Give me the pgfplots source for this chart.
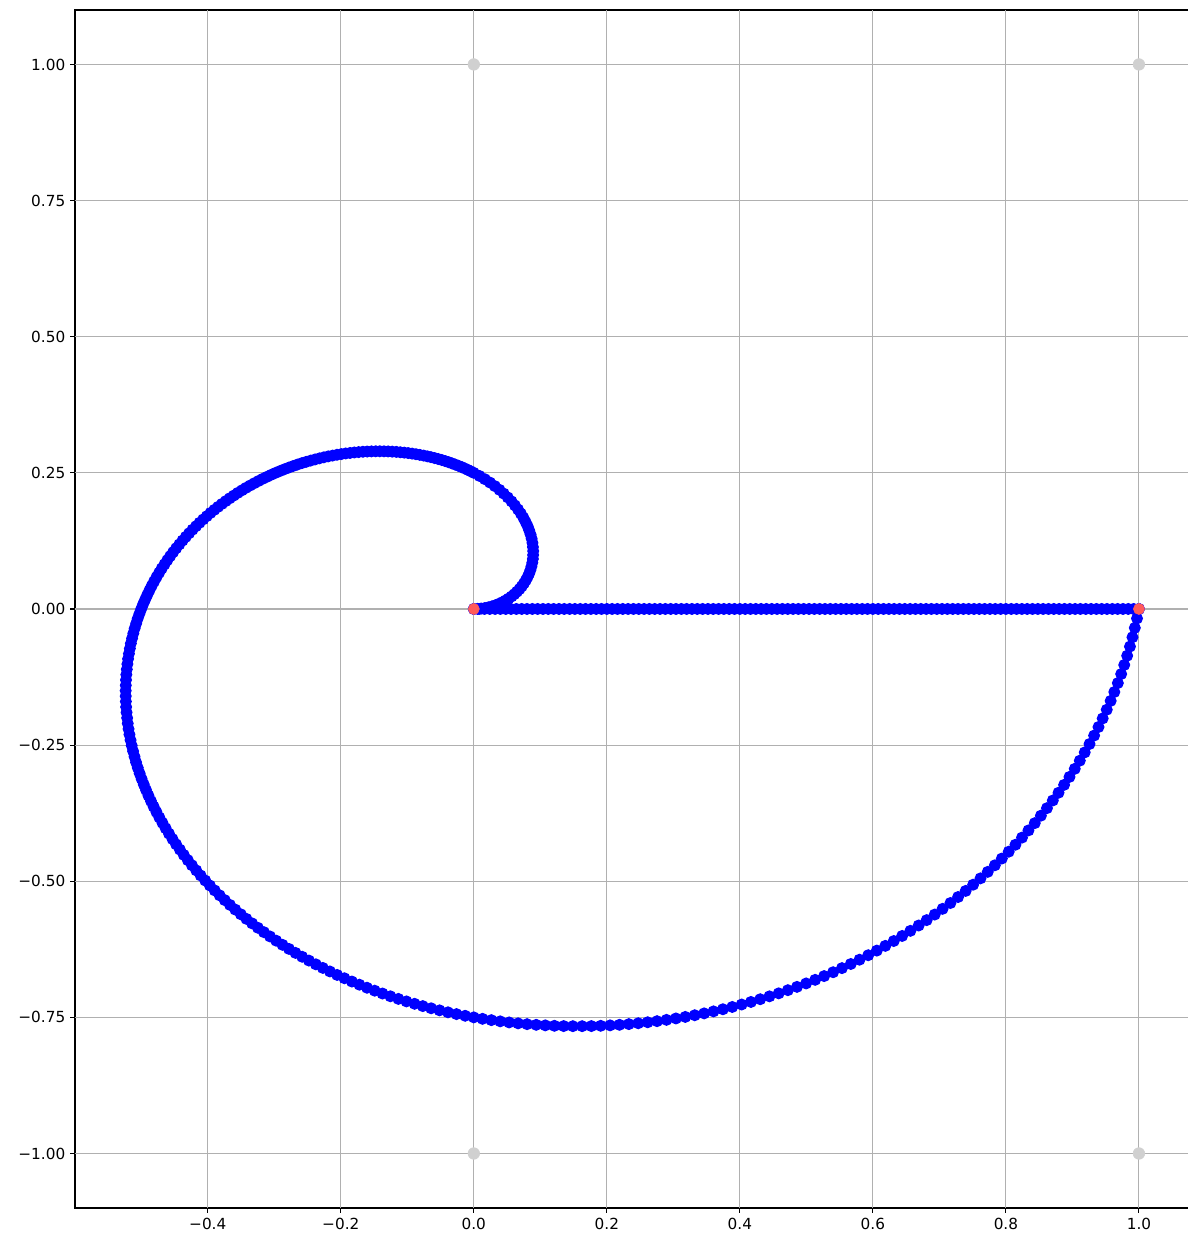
\documentclass[border=0pt]{standalone}
\usepackage{fontspec}
\setmainfont{DejaVu Sans}
\usepackage{pgfplots}
\usepackage{pgfplotstable}
\pgfplotsset{compat=1.18}
\definecolor{gridgray}{HTML}{B0B0B0}
\definecolor{cornergray}{HTML}{D0D0D0}
\definecolor{ptred}{HTML}{FF5A5A}

\pgfplotstableread{
x y
0 0
0.008 0
0.016 0
0.024 0
0.032 0
0.040 0
0.048 0
0.056 0
0.064 0
0.072 0
0.080 0
0.088 0
0.096 0
0.104 0
0.112 0
0.120 0
0.128 0
0.136 0
0.144 0
0.152 0
0.160 0
0.168 0
0.176 0
0.184 0
0.192 0
0.200 0
0.208 0
0.216 0
0.224 0
0.232 0
0.240 0
0.248 0
0.256 0
0.264 0
0.272 0
0.280 0
0.288 0
0.296 0
0.304 0
0.312 0
0.320 0
0.328 0
0.336 0
0.344 0
0.352 0
0.360 0
0.368 0
0.376 0
0.384 0
0.392 0
0.400 0
0.408 0
0.416 0
0.424 0
0.432 0
0.440 0
0.448 0
0.456 0
0.464 0
0.472 0
0.480 0
0.488 0
0.496 0
0.504 0
0.512 0
0.520 0
0.528 0
0.536 0
0.544 0
0.552 0
0.560 0
0.568 0
0.576 0
0.584 0
0.592 0
0.600 0
0.608 0
0.616 0
0.624 0
0.632 0
0.640 0
0.648 0
0.656 0
0.664 0
0.672 0
0.680 0
0.688 0
0.696 0
0.704 0
0.712 0
0.720 0
0.728 0
0.736 0
0.744 0
0.752 0
0.760 0
0.768 0
0.776 0
0.784 0
0.792 0
0.800 0
0.808 0
0.816 0
0.824 0
0.832 0
0.840 0
0.848 0
0.856 0
0.864 0
0.872 0
0.880 0
0.888 0
0.896 0
0.904 0
0.912 0
0.920 0
0.928 0
0.936 0
0.944 0
0.952 0
0.960 0
0.968 0
0.976 0
0.984 0
0.992 0
1.000 0
}\linedata

\pgfplotstableread{
x y
1 0
0.9971 -0.0174
0.9938 -0.0347
0.9903 -0.0519
0.9865 -0.0690
0.9823 -0.0859
0.9779 -0.1028
0.9733 -0.1195
0.9683 -0.1361
0.9630 -0.1525
0.9575 -0.1688
0.9516 -0.1850
0.9455 -0.2010
0.9392 -0.2168
0.9326 -0.2325
0.9257 -0.2480
0.9185 -0.2634
0.9111 -0.2786
0.9035 -0.2936
0.8956 -0.3084
0.8875 -0.3230
0.8791 -0.3375
0.8705 -0.3517
0.8617 -0.3658
0.8526 -0.3796
0.8434 -0.3933
0.8339 -0.4067
0.8242 -0.4199
0.8143 -0.4330
0.8042 -0.4458
0.7939 -0.4583
0.7834 -0.4707
0.7727 -0.4828
0.7618 -0.4947
0.7507 -0.5064
0.7395 -0.5178
0.7281 -0.5290
0.7166 -0.5400
0.7048 -0.5507
0.6930 -0.5612
0.6809 -0.5714
0.6688 -0.5813
0.6564 -0.5911
0.6440 -0.6005
0.6314 -0.6098
0.6187 -0.6187
0.6059 -0.6274
0.5930 -0.6359
0.5799 -0.6441
0.5668 -0.6520
0.5535 -0.6596
0.5402 -0.6671
0.5267 -0.6742
0.5132 -0.6811
0.4996 -0.6877
0.4859 -0.6940
0.4722 -0.7001
0.4584 -0.7059
0.4445 -0.7114
0.4306 -0.7167
0.4167 -0.7217
0.4027 -0.7264
0.3886 -0.7309
0.3745 -0.7351
0.3604 -0.7390
0.3463 -0.7427
0.3322 -0.7461
0.3180 -0.7492
0.3039 -0.7520
0.2897 -0.7546
0.2755 -0.7570
0.2614 -0.7590
0.2472 -0.7608
0.2331 -0.7624
0.2190 -0.7637
0.2049 -0.7647
0.1908 -0.7655
0.1768 -0.7660
0.1629 -0.7662
0.1489 -0.7662
0.1351 -0.7660
0.1212 -0.7655
0.1075 -0.7647
0.0938 -0.7637
0.0801 -0.7625
0.0666 -0.7610
0.0531 -0.7593
0.0397 -0.7573
0.0264 -0.7551
0.0131 -0.7527
0 -0.75
-0.0130 -0.7471
-0.0260 -0.7440
-0.0388 -0.7407
-0.0515 -0.7371
-0.0642 -0.7333
-0.0767 -0.7293
-0.0890 -0.7251
-0.1013 -0.7207
-0.1134 -0.7161
-0.1254 -0.7113
-0.1373 -0.7062
-0.1490 -0.7010
-0.1606 -0.6956
-0.1720 -0.6900
-0.1833 -0.6842
-0.1945 -0.6782
-0.2055 -0.6721
-0.2163 -0.6657
-0.2270 -0.6592
-0.2375 -0.6526
-0.2479 -0.6457
-0.2581 -0.6387
-0.2681 -0.6316
-0.2779 -0.6243
-0.2876 -0.6168
-0.2971 -0.6092
-0.3064 -0.6014
-0.3156 -0.5935
-0.3246 -0.5855
-0.3333 -0.5774
-0.3419 -0.5691
-0.3503 -0.5607
-0.3586 -0.5521
-0.3666 -0.5435
-0.3744 -0.5347
-0.3821 -0.5259
-0.3895 -0.5169
-0.3968 -0.5078
-0.4038 -0.4987
-0.4107 -0.4894
-0.4173 -0.4801
-0.4238 -0.4707
-0.4300 -0.4612
-0.4361 -0.4516
-0.4419 -0.4419
-0.4476 -0.4322
-0.4530 -0.4225
-0.4583 -0.4126
-0.4633 -0.4027
-0.4681 -0.3928
-0.4728 -0.3828
-0.4772 -0.3728
-0.4814 -0.3628
-0.4854 -0.3527
-0.4892 -0.3426
-0.4928 -0.3324
-0.4962 -0.3222
-0.4994 -0.3121
-0.5024 -0.3019
-0.5052 -0.2917
-0.5078 -0.2815
-0.5101 -0.2712
-0.5123 -0.2610
-0.5143 -0.2508
-0.5161 -0.2407
-0.5177 -0.2305
-0.5191 -0.2203
-0.5203 -0.2102
-0.5212 -0.2001
-0.5221 -0.1900
-0.5227 -0.1800
-0.5231 -0.1700
-0.5233 -0.1600
-0.5234 -0.1501
-0.5232 -0.1402
-0.5229 -0.1304
-0.5224 -0.1206
-0.5217 -0.1109
-0.5208 -0.1012
-0.5198 -0.0916
-0.5185 -0.0821
-0.5171 -0.0727
-0.5156 -0.0633
-0.5138 -0.0540
-0.5119 -0.0448
-0.5099 -0.0357
-0.5076 -0.0266
-0.5053 -0.0176
-0.5027 -0.0088
-0.5 0
-0.4972 0.0087
-0.4941 0.0173
-0.4910 0.0257
-0.4877 0.0341
-0.4843 0.0424
-0.4807 0.0505
-0.4770 0.0586
-0.4731 0.0665
-0.4692 0.0743
-0.4650 0.0820
-0.4608 0.0896
-0.4565 0.0970
-0.4520 0.1044
-0.4474 0.1116
-0.4427 0.1186
-0.4379 0.1256
-0.4330 0.1324
-0.4280 0.1391
-0.4229 0.1456
-0.4176 0.1520
-0.4123 0.1583
-0.4069 0.1644
-0.4014 0.1704
-0.3959 0.1763
-0.3902 0.1820
-0.3845 0.1875
-0.3787 0.1929
-0.3728 0.1982
-0.3669 0.2033
-0.3608 0.2083
-0.3548 0.2132
-0.3486 0.2179
-0.3425 0.2224
-0.3362 0.2268
-0.3299 0.2310
-0.3236 0.2351
-0.3172 0.2391
-0.3108 0.2428
-0.3044 0.2465
-0.2979 0.2500
-0.2914 0.2533
-0.2849 0.2565
-0.2783 0.2595
-0.2718 0.2624
-0.2652 0.2652
-0.2586 0.2678
-0.2520 0.2702
-0.2453 0.2725
-0.2387 0.2746
-0.2321 0.2766
-0.2255 0.2785
-0.2189 0.2802
-0.2123 0.2817
-0.2057 0.2832
-0.1992 0.2844
-0.1926 0.2856
-0.1861 0.2865
-0.1796 0.2874
-0.1731 0.2881
-0.1667 0.2887
-0.1603 0.2891
-0.1539 0.2894
-0.1475 0.2896
-0.1413 0.2896
-0.1350 0.2895
-0.1288 0.2893
-0.1226 0.2889
-0.1165 0.2885
-0.1105 0.2878
-0.1045 0.2871
-0.0986 0.2863
-0.0927 0.2853
-0.0869 0.2842
-0.0812 0.2830
-0.0755 0.2817
-0.0699 0.2803
-0.0644 0.2788
-0.0589 0.2771
-0.0535 0.2754
-0.0482 0.2736
-0.0430 0.2716
-0.0379 0.2696
-0.0328 0.2674
-0.0279 0.2652
-0.0230 0.2629
-0.0182 0.2605
-0.0135 0.2580
-0.0089 0.2554
-0.0044 0.2527
0 0.25
0.0085 0.2443
0.0167 0.2383
0.0244 0.2321
0.0317 0.2256
0.0386 0.2188
0.0450 0.2119
0.0511 0.2048
0.0567 0.1976
0.0618 0.1902
0.0665 0.1827
0.0708 0.1751
0.0746 0.1675
0.0779 0.1598
0.0809 0.1521
0.0833 0.1443
0.0854 0.1366
0.0870 0.1290
0.0882 0.1214
0.0889 0.1138
0.0893 0.1064
0.0892 0.0991
0.0888 0.0919
0.0879 0.0849
0.0867 0.0781
0.0851 0.0714
0.0832 0.0650
0.0809 0.0588
0.0783 0.0528
0.0754 0.0471
0.0722 0.0417
0.0687 0.0365
0.0649 0.0317
0.0609 0.0271
0.0567 0.0229
0.0522 0.0190
0.0476 0.0155
0.0427 0.0123
0.0377 0.0094
0.0326 0.0069
0.0274 0.0048
0.0220 0.0031
0.0166 0.0017
0.0111 0.0008
0.0056 0.0002
0 0
}\spiraldata

\begin{document}
\begin{tikzpicture}
\begin{axis}[
  scale only axis,
  width=801.4pt, height=862.6pt,
  xmin=-0.5996, xmax=1.0737,
  ymin=-1.1, ymax=1.1,
  clip=false,
  axis on top,
  axis line style={draw=none},
  tick pos=left,
  tick align=outside,
  major tick length=3.5pt,
  every tick/.style={black, line width=0.8pt},
  grid=major,
  major grid style={gridgray, line width=0.8pt},
  xtick={-0.4,-0.2,0,0.2,0.4,0.6,0.8,1.0},
  xticklabels={−0.4,−0.2,0.0,0.2,0.4,0.6,0.8,1.0},
  ytick={-1,-0.75,-0.5,-0.25,0,0.25,0.5,0.75,1},
  yticklabels={−1.00,−0.75,−0.50,−0.25,0.00,0.25,0.50,0.75,1.00},
  ticklabel style={font=\fontsize{11}{13}\selectfont, black},
]
% gray corner points
\addplot[only marks, mark=*, mark size=4.2pt, mark options={fill=cornergray, draw=cornergray}]
  coordinates {(0,1) (1,1) (0,-1) (1,-1)};
% blue line and spiral
\addplot[blue, line width=1.5pt, mark=*, mark size=3.9pt, mark options={fill=blue, draw=blue, line width=0.8pt}]
  table[x=x, y=y] {\linedata};
\addplot[blue, line width=1.5pt, mark=*, mark size=3.9pt, mark options={fill=blue, draw=blue, line width=0.8pt}]
  table[x=x, y=y] {\spiraldata};
% red end points
\addplot[only marks, mark=*, mark size=4pt, mark options={fill=ptred, draw=ptred}]
  coordinates {(0,0) (1,0)};
% spines (left, top, bottom)
\draw[black, line width=0.8pt] (rel axis cs:1,1) -- (rel axis cs:0,1) -- (rel axis cs:0,0) -- (rel axis cs:1,0);
% margins as in the reference image
\path (rel axis cs:0,1) ++(0pt,7.2pt);
\path (rel axis cs:0,0) ++(-54pt,-27.4pt);
\end{axis}
\end{tikzpicture}
\end{document}
